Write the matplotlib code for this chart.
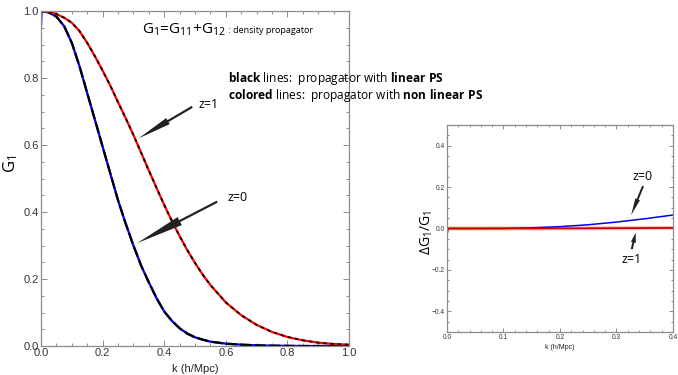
import matplotlib
matplotlib.use('Agg')
import matplotlib.pyplot as plt
from matplotlib.ticker import MultipleLocator
from matplotlib.patches import FancyArrow
from matplotlib.transforms import IdentityTransform

plt.rcParams['font.family'] = ['Open Sans', 'DejaVu Sans']
plt.rcParams['mathtext.fontset'] = 'custom'
plt.rcParams['mathtext.rm'] = 'Open Sans'
plt.rcParams['mathtext.it'] = 'Open Sans'
plt.rcParams['mathtext.bf'] = 'Open Sans:bold'

# ── data ──────────────────────────────────────────────────────────────────
k = [0.0, 0.025, 0.05, 0.075, 0.1, 0.125, 0.15, 0.175, 0.2, 0.225, 0.25,
     0.275, 0.3, 0.325, 0.35, 0.375, 0.4, 0.425, 0.45, 0.475, 0.5, 0.525,
     0.55, 0.6, 0.65, 0.7, 0.75, 0.8, 0.85, 0.9, 0.95, 1.0]
g1_z0 = [1.0, 0.996, 0.983, 0.955, 0.905, 0.835, 0.755, 0.675, 0.595, 0.515,
         0.435, 0.365, 0.30, 0.24, 0.19, 0.143, 0.103, 0.075, 0.053, 0.037,
         0.026, 0.019, 0.013, 0.007, 0.004, 0.002, 0.001, 0.0005, 0.0, 0.0, 0.0, 0.0]
g1_z1 = [1.0, 0.998, 0.991, 0.980, 0.965, 0.940, 0.905, 0.865, 0.822, 0.777,
         0.728, 0.68, 0.63, 0.577, 0.524, 0.472, 0.421, 0.373, 0.328, 0.286,
         0.248, 0.213, 0.182, 0.13, 0.092, 0.063, 0.042, 0.027, 0.017, 0.010,
         0.006, 0.004]
# non linear z=0 curve starts slightly low at k=0
k_nl0 = [0.0] + [0.002] + k[1:]
g1_nl_z0 = [0.955] + [1.0] + g1_z0[1:]

# ratio panel
k_r = [0.0, 0.002, 0.05, 0.1, 0.15, 0.2, 0.25, 0.3, 0.35, 0.4]
dg_z0 = [-0.035, 0.0, 0.0, 0.0005, 0.003, 0.009, 0.018, 0.031, 0.047, 0.065]
dg_z1 = [0.0, 0.0, 0.0, 0.0, 0.0, 0.0005, 0.001, 0.0015, 0.002, 0.003]

gray = "#8c8c8c"

def style_axes(ax, xmaj, xmin, ymaj, ymin, lsize):
    for s in ax.spines.values():
        s.set_color(gray)
        s.set_linewidth(0.9)
    ax.xaxis.set_major_locator(MultipleLocator(xmaj))
    ax.xaxis.set_minor_locator(MultipleLocator(xmin))
    ax.yaxis.set_major_locator(MultipleLocator(ymaj))
    ax.yaxis.set_minor_locator(MultipleLocator(ymin))
    ax.tick_params(which="both", direction="in", top=True, right=True,
                   color=gray, width=0.7, labelsize=lsize, labelcolor="#333333",
                   labelfontfamily="Liberation Sans")
    ax.tick_params(which="major", length=4, pad=1.5)
    ax.tick_params(which="minor", length=2)


def pointer(ax, tail, tip, width, head_w, head_l):
    # arrow drawn in pixel space so the head keeps its shape
    x0, y0 = ax.transData.transform(tail)
    x1, y1 = ax.transData.transform(tip)
    a = FancyArrow(x0, y0, x1 - x0, y1 - y0, width=width, head_width=head_w,
                   head_length=head_l, length_includes_head=True,
                   color="#222222", lw=0, transform=IdentityTransform())
    ax.figure.add_artist(a)


fig = plt.figure(figsize=(6.78, 3.75), dpi=100)

# ── main panel ────────────────────────────────────────────────────────────
ax = fig.add_axes([0.0605, 0.0773, 0.4543, 0.8933])
ax.plot(k_nl0, g1_nl_z0, color="#0000ff", lw=1.6)
ax.plot(k, g1_z0, color="black", lw=1.6, dashes=(5, 1.5))
ax.plot(k, g1_z1, color="#ff0000", lw=1.6)
ax.plot(k, g1_z1, color="black", lw=1.3, dashes=(1.8, 2.2))
ax.set_xlim(0, 1)
ax.set_ylim(0, 1)
style_axes(ax, 0.2, 0.05, 0.2, 0.05, 8)
ax.set_xlabel("k (h/Mpc)", fontsize=8, family="Liberation Sans", labelpad=4, color="#222222")
ax.set_ylabel("G$_1$", fontsize=12)
ax.yaxis.set_label_coords(-0.068, 0.545)

t1 = ax.text(0.329, 0.943, "G$_1$=G$_{11}$+G$_{12}$", fontsize=11, va="center")
ax.annotate(" : density propagator", xy=(1.0, 0.22), xycoords=t1, fontsize=6.5,
            va="bottom", ha="left")

ax.text(0.606, 0.80, r"$\mathbf{black}$ lines:  propagator with $\mathbf{linear\ PS}$",
        fontsize=8.6, va="center", clip_on=False)
ax.text(0.606, 0.749, r"$\mathbf{colored}$ lines:  propagator with $\mathbf{non\ linear\ PS}$",
        fontsize=8.6, va="center", clip_on=False)

pointer(ax, (0.491, 0.714), (0.317, 0.62), 2.2, 7, 34)
pointer(ax, (0.572, 0.431), (0.312, 0.307), 2.2, 9, 48)
ax.text(0.511, 0.72, "z=1", fontsize=9, va="center")
ax.text(0.605, 0.444, "z=0", fontsize=9, va="center")

# ── ratio panel ───────────────────────────────────────────────────────────
ax2 = fig.add_axes([0.6593, 0.1147, 0.3333, 0.552])
ax2.plot(k_r, dg_z1, color="#ff9a9a", lw=3.0, alpha=0.6)
ax2.plot(k_r, dg_z0, color="#0000ff", lw=1.1)
ax2.plot(k_r, dg_z1, color="#cc0000", lw=1.3)
ax2.set_xlim(0, 0.4)
ax2.set_ylim(-0.5, 0.5)
style_axes(ax2, 0.1, 0.02, 0.2, 0.05, 4.8)
ax2.tick_params(which="major", length=3)
ax2.tick_params(which="minor", length=1.5)
ax2.set_xlabel("k (h/Mpc)", fontsize=5, family="Liberation Sans", labelpad=2, color="#222222")
ax2.set_ylabel(r"$\Delta$G$_1$/G$_1$", fontsize=10)
ax2.yaxis.set_label_coords(-0.055, 0.48)

pointer(ax2, (0.347, 0.205), (0.326, 0.065), 2.0, 5, 17)
pointer(ax2, (0.327, -0.10), (0.334, -0.02), 2.0, 5, 10)
ax2.text(0.347, 0.25, "z=0", fontsize=9, va="center", ha="center")
ax2.text(0.327, -0.148, "z=1", fontsize=9, va="center", ha="center")

fig.savefig("out.png", dpi=100)
